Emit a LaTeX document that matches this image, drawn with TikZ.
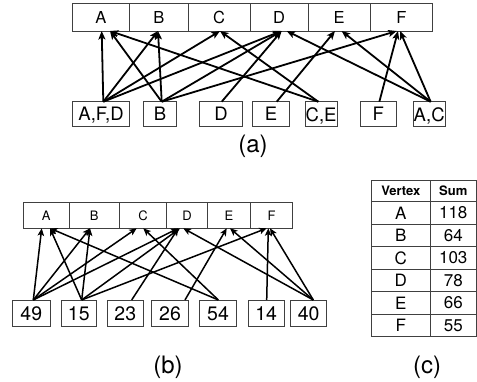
\documentclass[tikz,border=0pt]{standalone}
\usepackage{fontspec}
\setmainfont{TeX Gyre Heros}
\usetikzlibrary{arrows.meta}
\begin{document}
\begin{tikzpicture}[x=1pt,y=-1pt,
  cell/.style={draw=black!75, line width=0.8pt, inner sep=0pt, outer sep=0pt},
  topa/.style={cell, minimum height=28pt, font=\fontsize{16.5}{18}\selectfont},
  bota/.style={cell, minimum height=25pt, text depth=0pt, font=\fontsize{18.5}{20}\selectfont},
  topb/.style={cell, minimum height=25.6pt, font=\fontsize{13}{15}\selectfont},
  botb/.style={cell, minimum height=26.7pt, font=\fontsize{19.5}{21}\selectfont},
  arr/.style={-{Stealth[length=8.5pt,width=7pt,inset=2pt]}, line width=1.8pt},
  arrb/.style={-{Stealth[length=7.5pt,width=6.5pt,inset=1.8pt]}, line width=1.5pt},
  caption/.style={font=\fontsize{24}{26}\selectfont},
  tabline/.style={draw=black!75, line width=0.8pt},
  thead/.style={font=\bfseries\fontsize{13}{15}\selectfont},
  tcell/.style={font=\fontsize{17}{19}\selectfont}
]
\useasboundingbox (0,0) rectangle (477,381);

% ---------- (a) vertices ----------
\node[topa, minimum width=56.6pt] (aA) at (101,17) {A};
\node[topa, minimum width=59pt]   (aB) at (158.8,17) {B};
\node[topa, minimum width=61.7pt] (aC) at (219.15,17) {C};
\node[topa, minimum width=58.3pt] (aD) at (279.15,17) {D};
\node[topa, minimum width=61.7pt] (aE) at (339.15,17) {E};
\node[topa, minimum width=62.7pt] (aF) at (401.35,17) {F};

% ---------- (a) lists ----------
\node[bota, minimum width=56.6pt] (a1) at (101,114.2) {A,F,D};
\node[bota, minimum width=33.4pt] (a2) at (160,114.2) {B};
\node[bota, minimum width=43.4pt] (a3) at (221,114.2) {D};
\node[bota, minimum width=36.6pt] (a4) at (271,114.2) {E};
\node[bota, minimum width=32.3pt] (a5) at (321.15,114.2) {C,E};
\node[bota, minimum width=36.7pt] (a6) at (378.35,114.2) {F};
\node[bota, minimum width=31.7pt] (a7) at (429.15,114.2) {A,C};

\draw[arr] ([xshift=2.3pt]a1.north) -- ([xshift=0.7pt]aA.south);
\draw[arr] ([xshift=2.3pt]a1.north) -- ([xshift=-0.8pt]aB.south);
\draw[arr] ([xshift=2.3pt]a1.north) -- ([xshift=0.85pt]aC.south);
\draw[arr] ([xshift=2.3pt]a1.north) -- ([xshift=2.5pt]aD.south);
\draw[arr] ([xshift=1.7pt]a2.north) -- ([xshift=9pt]aA.south);
\draw[arr] ([xshift=1.7pt]a2.north) -- ([xshift=-0.8pt]aB.south);
\draw[arr] ([xshift=1.7pt]a2.north) -- ([xshift=2.5pt]aD.south);
\draw[arr] ([xshift=1.7pt]a2.north) -- ([xshift=-4.65pt]aF.south);
\draw[arr] ([xshift=0.7pt]a3.north) -- ([xshift=2.5pt]aD.south);
\draw[arr] ([xshift=5.7pt]a4.north) -- ([xshift=-4.15pt]aE.south);
\draw[arr] ([xshift=-2.85pt]a5.north) -- ([xshift=9pt]aA.south);
\draw[arr] ([xshift=-2.85pt]a5.north) -- ([xshift=0.85pt]aC.south);
\draw[arr] ([xshift=1pt]a6.north) -- ([xshift=-3.35pt]aF.south);
\draw[arr] ([xshift=1.5pt]a7.north) -- ([xshift=7.5pt]aD.south);
\draw[arr] ([xshift=1.5pt]a7.north) -- ([xshift=2.5pt]aE.south);
\draw[arr] ([xshift=1.5pt]a7.north) -- ([xshift=-1.35pt]aF.south);

\node[caption] (capa) at (253,146) {(a)};

% ---------- (b) vertices ----------
\node[topb, minimum width=46pt]   (bA) at (46.3,215.5) {A};
\node[topb, minimum width=50pt]   (bB) at (94.3,215.5) {B};
\node[topb, minimum width=47.4pt] (bC) at (143,215.5) {C};
\node[topb, minimum width=40.6pt] (bD) at (187,215.5) {D};
\node[topb, minimum width=43.4pt] (bE) at (229,215.5) {E};
\node[topb, minimum width=41.6pt] (bF) at (271.5,215.5) {F};

% ---------- (b) sums ----------
\node[botb, minimum width=37.3pt] (b1) at (31.3,313.3) {49};
\node[botb, minimum width=35.7pt] (b2) at (78.8,313.3) {15};
\node[botb, minimum width=36pt]   (b3) at (125.3,313.3) {23};
\node[botb, minimum width=36.6pt] (b4) at (170,313.3) {26};
\node[botb, minimum width=37.4pt] (b5) at (218,313.3) {54};
\node[botb, minimum width=35.7pt] (b6) at (266.2,313.3) {14};
\node[botb, minimum width=36pt]   (b7) at (308.7,313.3) {40};

\draw[arrb] ([xshift=2pt]b1.north) -- ([xshift=-4.6pt]bA.south);
\draw[arrb] ([xshift=2pt]b1.north) -- ([xshift=-4.3pt]bB.south);
\draw[arrb] ([xshift=2pt]b1.north) -- ([xshift=-6.3pt]bC.south);
\draw[arrb] ([xshift=2pt]b1.north) -- ([xshift=-8.7pt]bD.south);
\draw[arrb] ([xshift=2.9pt]b2.north) -- ([xshift=3.7pt]bA.south);
\draw[arrb] ([xshift=2.9pt]b2.north) -- ([xshift=-4.3pt]bB.south);
\draw[arrb] ([xshift=2.9pt]b2.north) -- ([xshift=-7pt]bD.south);
\draw[arrb] ([xshift=2.9pt]b2.north) -- ([xshift=-4.8pt]bF.south);
\draw[arrb] ([xshift=6.4pt]b3.north) -- ([xshift=-8.7pt]bD.south);
\draw[arrb] ([xshift=15pt]b4.north) -- ([xshift=-2.3pt]bE.south);
\draw[arrb] ([xshift=0.3pt]b5.north) -- ([xshift=3.7pt]bA.south);
\draw[arrb] ([xshift=0.3pt]b5.north) -- ([xshift=0.3pt]bC.south);
\draw[arrb] ([xshift=0.5pt]b6.north) -- ([xshift=-3.2pt]bF.south);
\draw[arrb] ([xshift=4.6pt]b7.north) -- ([xshift=-3.7pt]bD.south);
\draw[arrb] ([xshift=4.6pt]b7.north) -- ([xshift=1pt]bE.south);
\draw[arrb] ([xshift=4.6pt]b7.north) -- ([xshift=-1.5pt]bF.south);

\node[caption] (capb) at (168,367) {(b)};

% ---------- (c) table of sums ----------
\draw[tabline] (371.7,180) rectangle (476.5,336.7);
\draw[tabline] (430,180) -- (430,336.7);
\foreach \k in {0,...,5}
  \draw[tabline] (371.7,201.7+22.5*\k) -- (476.5,201.7+22.5*\k);
\node[thead] (hv) at (400.85,191) {Vertex};
\node[thead] (hs) at (453.25,191) {Sum};
\foreach \v/\s [count=\i from 0] in {A/118,B/64,C/103,D/78,E/66,F/55} {
  \node[tcell] (v\i) at (400.85,212.95+22.5*\i) {\v};
  \node[tcell] (s\i) at (453.25,212.95+22.5*\i) {\s};
}
\node[caption] (capc) at (427,367) {(c)};
\end{tikzpicture}
\end{document}
